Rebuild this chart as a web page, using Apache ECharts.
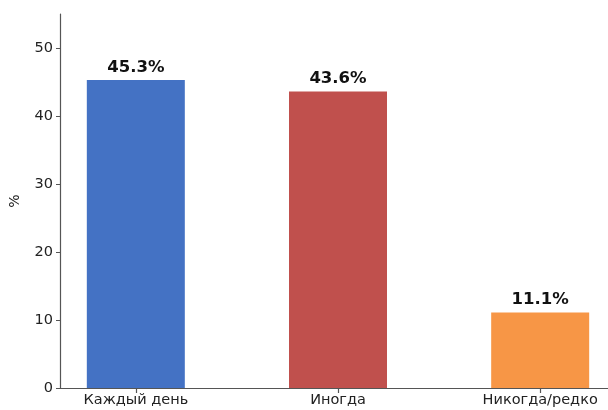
<!DOCTYPE html>
<html><head><meta charset="utf-8">
<script src="https://cdn.jsdelivr.net/npm/echarts@6/dist/echarts.min.js"></script>
<style>html,body{margin:0;padding:0;background:#fff}#c{width:608px;height:410px}</style>
</head><body><div id="c"></div>
<script>
const categories = ["Каждый день", "Иногда", "Никогда/редко"];
const values = [45.3, 43.6, 11.1];
const colors = ["#4472C4", "#C0504D", "#F79646"];
const yTicks = [0, 10, 20, 30, 40, 50];
const xTicks = [0, 1, 2];

const chart = echarts.init(document.getElementById('c'), null, {renderer: 'canvas'});
const font = 'DejaVu Sans';
chart.setOption({
  animation: false,
  grid: {left: 60, right: -8, top: 14, bottom: 22, containLabel: false, outerBoundsMode: 'none'},
  xAxis: {
    type: 'value', min: -0.375, max: 2.375,
    splitLine: {show: false},
    axisLine: {show: true, onZero: false, lineStyle: {color: '#555', width: 1.2}},
    axisTick: {show: true, customValues: xTicks, length: 5, lineStyle: {color: '#555', width: 1.2}},
    axisLabel: {customValues: xTicks, formatter: v => categories[Math.round(v)] || '',
      fontFamily: font, fontSize: 14.5, color: '#222', margin: 5}
  },
  yAxis: {
    type: 'value', min: 0, max: 55,
    name: '%', nameLocation: 'middle', nameGap: 38, nameRotate: 90,
    nameTextStyle: {fontFamily: font, fontSize: 14, color: '#222'},
    splitLine: {show: false},
    axisLine: {show: true, onZero: false, lineStyle: {color: '#555', width: 1.2}},
    axisTick: {show: true, customValues: yTicks, length: 4, lineStyle: {color: '#555'}},
    axisLabel: {customValues: yTicks, fontFamily: font, fontSize: 14.5, color: '#222', margin: 7}
  },
  series: [{
    type: 'bar', barWidth: 98,
    data: values.map((v, i) => ({value: [i, v], itemStyle: {color: colors[i]}})),
    label: {show: true, position: 'top', distance: 4,
      formatter: p => p.value[1].toFixed(1) + '%',
      fontFamily: font, fontSize: 16.5, fontWeight: 'bold', color: '#111'}
  }]
});
</script></body></html>
